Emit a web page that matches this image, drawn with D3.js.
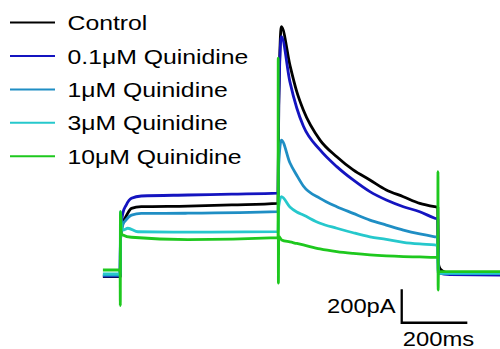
<!DOCTYPE html>
<html>
<head>
<meta charset="utf-8">
<script src="https://cdn.jsdelivr.net/npm/d3@7"></script>
<style>
body { margin: 0; background: #fff; }
text { font-family: "Liberation Sans", Arial, sans-serif; fill: #000; }
</style>
</head>
<body>
<script>
var width = 500,
    height = 349;

// traces: [time ms, current pA]
var control = [[-53,-22],[-0.5,-22],[0.5,200],[8,300],[17,337],[34,387],[64,397],[206,401],[340,408],[481,417],
  [483,1000],[491,1475],[517,1246],[538,1086],[558,976],[609,796],[660,696],[710,617],[761,557],[811,497],[863,457],[913,417],[959,397],[968,394],
  [969.5,60],[975,25],[985,10],[1005,-2],[1158,-6]];
var q01 = [[-53,-18],[-0.5,-18],[0.5,230],[8,360],[18,407],[34,447],[64,461],[206,467],[340,472],[481,478],
  [483,1000],[491,1415],[517,1146],[538,988],[558,880],[609,737],[660,637],[710,557],[761,487],[811,437],[863,397],[913,367],[959,328],[968,322],
  [969.5,0],[1005,-10],[1158,-12]];
var q1 = [[-53,-12],[-0.5,-12],[0.5,200],[8,290],[17,317],[34,347],[64,357],[206,358],[481,367],
  [483,650],[491,796],[517,660],[538,585],[558,521],[609,447],[660,397],[710,357],[761,317],[811,287],[863,257],[913,234],[959,217],[968,214],
  [969.5,-4],[1158,-4]];
var q3 = [[-53,-6],[-0.5,-6],[0.5,367],[3,300],[8,257],[23,268],[54,247],[206,245],[481,248],
  [483,400],[491,457],[517,395],[538,365],[558,347],[609,298],[660,268],[710,241],[761,217],[811,202],[863,184],[913,174],[959,168],[968,166],
  [969.5,0],[1158,0]];
var q10 = [[-53,18],[-0.5,18],[0,-195],[0.5,367],[3,235],[8,228],[34,214],[206,200],[481,212],
  [481.5,1287],[482,-60],[483,220],[492,198],[517,186],[538,177],[558,168],[609,144],[660,128],[710,117],[761,108],[811,102],[863,98],[913,96],[959,94],[968,94],
  [968.5,607],[969,-102],[970,8],[1158,8]];

var labels = ["Control", "0.1\u03bcM Quinidine", "1\u03bcM Quinidine", "3\u03bcM Quinidine", "10\u03bcM Quinidine"];
var colors = ["#000000", "#1414c0", "#1f8ec4", "#26c8cc", "#1ec81e"];
var traces = [control, q01, q1, q3, q10];

// scale bar: 200 ms, 200 pA
var barTime = 200, barCurrent = 200;
var barAt = [858, -298];

var svg = d3.select("body").append("svg").attr("width", width).attr("height", height);

var x = d3.scaleLinear().domain([0, 1000]).range([120.3, 448.3]);
var y = d3.scaleLinear().domain([0, 1000]).range([273, 106]);

var line = d3.line()
    .x(d => x(d[0]))
    .y(d => y(d[1]))
    .curve(d3.curveMonotoneX);

svg.append("g").selectAll("path").data(traces).enter().append("path")
    .attr("d", line)
    .attr("fill", "none")
    .attr("stroke", (d, i) => colors[i])
    .attr("stroke-width", 2.8)
    .attr("stroke-linejoin", "round");

// legend
var leg = svg.append("g").selectAll("g").data(labels).enter().append("g")
    .attr("transform", (d, i) => "translate(10," + (22.6 + i * 33.4) + ")");
leg.append("line")
    .attr("x1", 0).attr("x2", 45)
    .attr("stroke", (d, i) => colors[i])
    .attr("stroke-width", 2);
leg.append("text")
    .attr("transform", "translate(57.5,7.5) scale(1.18,1)")
    .style("font-size", "21px")
    .text(d => d);

// scale bar
var sb = svg.append("g");
sb.append("path")
    .attr("d", "M" + x(barAt[0]) + "," + y(barAt[1] + barCurrent) + "V" + y(barAt[1]) + "H" + x(barAt[0] + barTime))
    .attr("fill", "none")
    .attr("stroke", "#000")
    .attr("stroke-width", 2.3);
sb.append("text")
    .attr("transform", "translate(" + (x(barAt[0]) - 6) + ",313.3) scale(1.22,1)")
    .attr("text-anchor", "end")
    .style("font-size", "19.5px")
    .text(barCurrent + "pA");
sb.append("text")
    .attr("transform", "translate(" + (x(barAt[0]) + 1) + ",345.5) scale(1.22,1)")
    .style("font-size", "19.5px")
    .text(barTime + "ms");
</script>
</body>
</html>
